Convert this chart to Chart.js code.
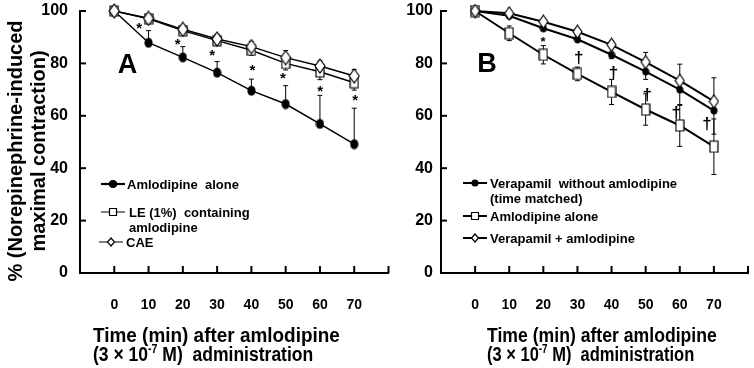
<!DOCTYPE html>
<html>
<head>
<meta charset="utf-8">
<script src="https://cdn.jsdelivr.net/npm/chart.js@4"></script>
<style>
  html, body { margin: 0; padding: 0; background: #fff; overflow: hidden; }
  #wrap { position: relative; width: 754px; height: 368px; overflow: hidden; }
  #chartA { position: absolute; left: 0; top: 0; }
  #chartB { position: absolute; left: 390px; top: 0; }
  .lbl { position: absolute; white-space: pre; color: #000; margin: 0; padding: 0; }
  .lbl sup { font-size: 12px; vertical-align: 8px; line-height: 0; }
</style>
</head>
<body>
<div id="wrap">
  <canvas id="chartA" width="396" height="368"></canvas>
  <canvas id="chartB" width="366" height="368"></canvas>
</div>
<script>
// time points (min)
const timeMin = [0, 10, 20, 30, 40, 50, 60, 70];
const xTickLabels = ['0', '10', '20', '30', '40', '50', '60', '70'];

// panel A
const amloAloneA = [100, 87.9, 82.3, 76.5, 69.6, 64.5, 56.9, 49.2];
const amloAloneAErr = [0, 4.6, 4.1, 4.2, 4.4, 7.0, 10.9, 13.7];
const leAmlo = [100, 97.0, 92.5, 88.7, 85.0, 80.0, 76.8, 72.6];
const leAmloErr = [0, 1.5, 1.5, 1.8, 2.0, 2.5, 3.0, 2.8];
const cae = [100, 97.2, 93.0, 89.3, 86.4, 82.2, 79.0, 75.2];
const caeErr = [0, 1.5, 1.5, 1.8, 2.0, 2.7, 2.0, 2.5];
// significance marks A: [time, value]
const starsA = [[7.3, 94.3], [18.5, 88.2], [28.6, 83.8], [40.3, 78.4], [49.2, 75.2], [60.1, 70.1], [70.3, 66.9]];

// panel B
const verNoAmlo = [100, 98.2, 93.4, 89.2, 83.3, 76.9, 70.0, 62.0];
const verNoAmloErr = [0, 0.8, 1.0, 1.0, 1.5, 3.0, 6.0, 9.0];
const amloAloneB = [100, 91.5, 83.3, 76.0, 69.1, 62.4, 56.3, 48.2];
const amloAloneBErr = [0, 2.8, 3.5, 2.6, 4.8, 6.0, 8.0, 10.6];
const verAmlo = [100, 99.1, 95.9, 92.1, 87.1, 80.5, 73.4, 65.5];
const verAmloErr = [0, 0.8, 1.0, 1.0, 1.5, 3.7, 6.3, 9.0];
const starsB = [[19.9, 89.2]];
const daggersB = [[30.3, 82.0], [40.5, 76.3], [50.4, 68.0], [58.9, 61.1], [67.9, 57.0]];

const FONT = '"Liberation Sans", Arial, sans-serif';
const wrap = document.getElementById('wrap');
const scratch = document.createElement('canvas').getContext('2d');

function tracePath(g, shape, cx, cy, w, h) {
  g.beginPath();
  if (shape === 'circle') {
    g.ellipse(cx, cy, w / 2, h / 2, 0, 0, Math.PI * 2);
  } else if (shape === 'square') {
    g.rect(cx - w / 2, cy - h / 2, w, h);
  } else {
    g.moveTo(cx, cy - h / 2);
    g.lineTo(cx + w / 2, cy);
    g.lineTo(cx, cy + h / 2);
    g.lineTo(cx - w / 2, cy);
    g.closePath();
  }
}

function marker(shape, w, h, fill) {
  const c = document.createElement('canvas');
  c.width = w + 2;
  c.height = h + 2;
  const g = c.getContext('2d');
  g.lineWidth = 1.2;
  g.strokeStyle = '#000';
  g.fillStyle = fill;
  tracePath(g, shape, c.width / 2, c.height / 2, w, h);
  g.fill();
  g.stroke();
  return c;
}

// put a text element so that its baseline sits at "base"
function addText(content, font, x, base, align, isHtml) {
  scratch.font = font;
  const m = scratch.measureText('Hg');
  const size = parseFloat(font.match(/(\d+(\.\d+)?)px/)[1]);
  const fA = m.fontBoundingBoxAscent || size * 0.905;
  const fD = m.fontBoundingBoxDescent || size * 0.212;
  const el = document.createElement('div');
  el.className = 'lbl';
  el.style.font = font;
  el.style.lineHeight = (fA + fD) + 'px';
  el.style.top = (base - fA) + 'px';
  if (isHtml) el.innerHTML = content; else el.textContent = content;
  wrap.appendChild(el);
  const w = el.offsetWidth;
  el.style.left = (align === 'center' ? x - w / 2 : x) + 'px';
  return el;
}

// glyph centred on a point
function markText(t, font, x, y) {
  scratch.font = font;
  const g = scratch.measureText(t);
  addText(t, font, x, y + (g.actualBoundingBoxAscent - g.actualBoundingBoxDescent) / 2, 'center');
}

const panelExtras = {};

const decor = {
  id: 'decor',
  beforeDatasetsDraw(chart) {
    const ctx = chart.ctx;
    const xs = chart.scales.x, ys = chart.scales.y;
    ctx.save();
    ctx.strokeStyle = '#000';
    ctx.lineWidth = 1;
    chart.data.datasets.forEach(ds => {
      ds.data.forEach((p, j) => {
        const e = ds.err[j];
        if (!e) return;
        const x = xs.getPixelForValue(p.x);
        const y = ys.getPixelForValue(p.y);
        const ends = [];
        if (ds.errDir !== 'down') ends.push(ys.getPixelForValue(p.y + e));
        if (ds.errDir !== 'up') ends.push(ys.getPixelForValue(p.y - e));
        ends.forEach(ye => {
          ctx.beginPath();
          ctx.moveTo(x, y);
          ctx.lineTo(x, ye);
          ctx.moveTo(x - 2.5, ye);
          ctx.lineTo(x + 2.5, ye);
          ctx.stroke();
        });
      });
    });
    ctx.restore();
  },
  afterDraw(chart) {
    const ex = panelExtras[chart.canvas.id];
    const ctx = chart.ctx;
    const xs = chart.scales.x, ys = chart.scales.y;
    const area = chart.chartArea;
    ctx.save();
    ctx.strokeStyle = '#000';
    // inward tick marks
    ctx.lineWidth = 2;
    for (let v = 0; v <= 80; v += 10) {
      const x = xs.getPixelForValue(v);
      ctx.beginPath();
      ctx.moveTo(x, area.bottom);
      ctx.lineTo(x, area.bottom - 7);
      ctx.stroke();
    }
    for (let v = 20; v <= 100; v += 20) {
      const y = ys.getPixelForValue(v);
      ctx.beginPath();
      ctx.moveTo(area.left, y);
      ctx.lineTo(area.left + 6, y);
      ctx.stroke();
    }
    // legend symbols
    ex.legend.forEach(it => {
      ctx.lineWidth = it.lw;
      ctx.beginPath();
      ctx.moveTo(it.x0, it.y);
      ctx.lineTo(it.x1, it.y);
      ctx.stroke();
      ctx.lineWidth = 1.2;
      ctx.fillStyle = it.fill;
      tracePath(ctx, it.shape, (it.x0 + it.x1) / 2, it.y, it.w, it.h);
      ctx.fill();
      ctx.stroke();
    });
    ctx.restore();
  }
};

function panel(canvasId, cfg) {
  panelExtras[canvasId] = cfg.decor;
  return new Chart(document.getElementById(canvasId), {
    type: 'line',
    data: {
      datasets: cfg.series.map(s => ({
        data: timeMin.map((t, i) => ({ x: t, y: s.values[i] })),
        err: s.err,
        errDir: s.dir,
        borderColor: '#000',
        borderWidth: cfg.lineWidth,
        pointStyle: s.marker,
        pointRadius: 6,
        pointHoverRadius: 6,
        tension: 0,
        fill: false,
        clip: false
      }))
    },
    options: {
      responsive: false,
      animation: false,
      events: [],
      layout: { padding: { left: 0, right: 2, top: 11, bottom: 0 } },
      scales: {
        x: {
          type: 'linear',
          min: -10,
          max: 80,
          afterFit: s => { s.height = 95; s.paddingLeft = 0; s.paddingRight = 0; },
          grid: { display: false, drawTicks: false },
          border: { color: '#000', width: 2 },
          ticks: {
            stepSize: 10,
            padding: 24,
            color: '#000',
            autoSkip: false,
            maxRotation: 0,
            font: { family: FONT, size: 14, weight: 'bold' },
            callback: v => {
              const i = timeMin.indexOf(v);
              return i < 0 ? '' : xTickLabels[i];
            }
          }
        },
        y: {
          min: 0,
          max: 100,
          afterFit: s => { s.width = cfg.yWidth; s.paddingTop = 0; s.paddingBottom = 0; },
          grid: { display: false, drawTicks: false },
          border: { color: '#000', width: 2 },
          ticks: {
            stepSize: 20,
            padding: cfg.yPad,
            color: '#000',
            font: { family: FONT, size: 16, weight: 'bold' }
          }
        }
      },
      plugins: {
        legend: { display: false },
        tooltip: { enabled: false }
      }
    },
    plugins: [decor]
  });
}

// texts laid over the canvas, placed through the chart scales
function overlay(chart, ex, offX) {
  const xs = chart.scales.x, ys = chart.scales.y;
  ex.marks.forEach(m => {
    m.pts.forEach(p => markText(m.t, m.font, offX + xs.getPixelForValue(p[0]), ys.getPixelForValue(p[1])));
  });
  addText(ex.letter.t, 'bold 27px ' + FONT, offX + xs.getPixelForValue(ex.letter.x), ys.getPixelForValue(ex.letter.y), 'left');
  ex.legend.forEach(it => {
    it.lines.forEach((ln, k) => addText(ln, 'bold 13px ' + FONT, offX + it.tx, it.y + 4.7 + k * 15, 'left'));
  });
  const f = 'bold 20px ' + FONT;
  const l1 = addText('Time (min) after amlodipine', f, ex.xTitle.x, 342, 'left');
  l1.style.transformOrigin = '0 0';
  l1.style.transform = 'scaleX(' + (ex.xTitle.w1 / l1.offsetWidth) + ')';
  const l2 = addText('(3 \u00d7 10<sup>-7</sup> M)  administration', f, ex.xTitle.x, 361, 'left', true);
  l2.style.transformOrigin = '0 0';
  l2.style.transform = 'scaleX(' + (ex.xTitle.w2 / l2.offsetWidth) + ')';
}

// point markers
const dotA = marker('circle', 7, 9, '#000');
const sqA = marker('square', 8, 10, '#fff');
const diaA = marker('diamond', 10, 14, '#fff');
const dotB = marker('circle', 6, 7, '#000');
const sqB = marker('square', 8, 11, '#fff');
const diaB = marker('diamond', 9, 13, '#fff');

const extrasA = {
  marks: [{ t: '*', font: 'bold 15px ' + FONT, pts: starsA }],
  letter: { t: 'A', x: 1.0, y: 76.3 },
  legend: [
    { lines: ['Amlodipine  alone'], shape: 'circle', fill: '#000', w: 7, h: 7, lw: 2.2, x0: 101, x1: 125, y: 184, tx: 127 },
    { lines: ['LE (1%)  containing', 'amlodipine'], shape: 'square', fill: '#fff', w: 7, h: 7, lw: 1, x0: 101, x1: 125, y: 212, tx: 129 },
    { lines: ['CAE'], shape: 'diamond', fill: '#fff', w: 7, h: 8, lw: 1, x0: 99, x1: 123, y: 242, tx: 126 }
  ],
  xTitle: { x: 93, w1: 247, w2: 220 }
};

const extrasB = {
  marks: [
    { t: '*', font: 'bold 13px ' + FONT, pts: starsB },
    { t: '\u2020', font: 'bold 17px ' + FONT, pts: daggersB }
  ],
  letter: { t: 'B', x: 0.6, y: 76.8 },
  legend: [
    { lines: ['Verapamil  without amlodipine', '(time matched)'], shape: 'circle', fill: '#000', w: 6, h: 6, lw: 2, x0: 73, x1: 97, y: 183, tx: 100 },
    { lines: ['Amlodipine alone'], shape: 'square', fill: '#fff', w: 7, h: 7, lw: 2, x0: 73, x1: 97, y: 216, tx: 100 },
    { lines: ['Verapamil + amlodipine'], shape: 'diamond', fill: '#fff', w: 7, h: 8, lw: 2, x0: 73, x1: 97, y: 238, tx: 100 }
  ],
  xTitle: { x: 487, w1: 230, w2: 207 }
};

const chartA = panel('chartA', {
  lineWidth: 1.5,
  yWidth: 80,
  yPad: 12,
  series: [
    { values: cae, err: caeErr, dir: 'up', marker: diaA },
    { values: leAmlo, err: leAmloErr, dir: 'down', marker: sqA },
    { values: amloAloneA, err: amloAloneAErr, dir: 'up', marker: dotA }
  ],
  decor: extrasA
});

const chartB = panel('chartB', {
  lineWidth: 2,
  yWidth: 51,
  yPad: 8,
  series: [
    { values: verAmlo, err: verAmloErr, dir: 'up', marker: diaB },
    { values: verNoAmlo, err: verNoAmloErr, dir: 'down', marker: dotB },
    { values: amloAloneB, err: amloAloneBErr, dir: 'both', marker: sqB }
  ],
  decor: extrasB
});

overlay(chartA, extrasA, 0);
overlay(chartB, extrasB, 390);

// rotated y title of panel A
const yt = document.createElement('div');
yt.className = 'lbl';
yt.style.font = 'bold 20px ' + FONT;
yt.style.lineHeight = '23px';
yt.style.width = '300px';
yt.style.textAlign = 'center';
yt.style.left = (26.5 - 150) + 'px';
yt.style.top = (151 - 23) + 'px';
yt.style.transform = 'rotate(-90deg)';
yt.textContent = '% (Norepinephrine-induced\nmaximal contraction)';
wrap.appendChild(yt);
</script>
</body>
</html>
